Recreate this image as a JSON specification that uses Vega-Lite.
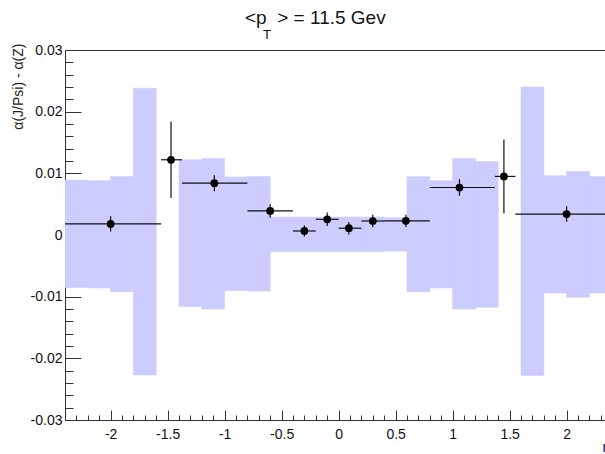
{
  "$schema": "https://vega.github.io/schema/vega-lite/v6.json",
  "width": 543,
  "height": 370,
  "autosize": {"type": "none"},
  "padding": {"left": 65, "top": 50, "right": 0, "bottom": 34},
  "background": "white",
  "config": {
    "view": {"stroke": "#333333", "strokeWidth": 1},
    "font": "Liberation Sans",
    "title": {"font": "Liberation Sans", "fontSize": 19, "fontWeight": "normal", "color": "#111111"}
  },
  "title": {
    "text": "<p\u00a0\u00a0> = 11.5 Gev",
    "subtitle": "\u200b\u00a0\u00a0\u00a0\u00a0\u00a0T",
    "subtitleFont": "Liberation Sans",
    "subtitleFontSize": 13,
    "subtitleColor": "#111111",
    "subtitlePadding": 1,
    "anchor": "start",
    "frame": "group",
    "dx": 180,
    "offset": 1
  },
  "datasets": {
    "bands": [
      {"x1": -2.4, "x2": -2.2, "lo": -0.0085, "hi": 0.0089},
      {"x1": -2.2, "x2": -2.0, "lo": -0.0086, "hi": 0.0088},
      {"x1": -2.0, "x2": -1.8, "lo": -0.0092, "hi": 0.0095},
      {"x1": -1.8, "x2": -1.6, "lo": -0.0227, "hi": 0.0238},
      {"x1": -1.4, "x2": -1.2, "lo": -0.0116, "hi": 0.0122},
      {"x1": -1.2, "x2": -1.0, "lo": -0.0120, "hi": 0.0124},
      {"x1": -1.0, "x2": -0.8, "lo": -0.0090, "hi": 0.0094},
      {"x1": -0.8, "x2": -0.6, "lo": -0.0091, "hi": 0.0095},
      {"x1": -0.6, "x2": -0.4, "lo": -0.0027, "hi": 0.0029},
      {"x1": -0.4, "x2": -0.2, "lo": -0.0027, "hi": 0.0029},
      {"x1": -0.2, "x2": 0.0, "lo": -0.0027, "hi": 0.0029},
      {"x1": 0.0, "x2": 0.2, "lo": -0.0027, "hi": 0.0029},
      {"x1": 0.2, "x2": 0.4, "lo": -0.0027, "hi": 0.0029},
      {"x1": 0.4, "x2": 0.6, "lo": -0.0026, "hi": 0.0028},
      {"x1": 0.6, "x2": 0.8, "lo": -0.0092, "hi": 0.00945},
      {"x1": 0.8, "x2": 1.0, "lo": -0.0086, "hi": 0.0088},
      {"x1": 1.0, "x2": 1.2, "lo": -0.0120, "hi": 0.0124},
      {"x1": 1.2, "x2": 1.4, "lo": -0.0117, "hi": 0.0119},
      {"x1": 1.6, "x2": 1.8, "lo": -0.0228, "hi": 0.0240},
      {"x1": 1.8, "x2": 2.0, "lo": -0.0094, "hi": 0.0096},
      {"x1": 2.0, "x2": 2.2, "lo": -0.0101, "hi": 0.0103},
      {"x1": 2.2, "x2": 2.4, "lo": -0.0094, "hi": 0.0095}
    ],
    "points": [
      {"x": -2.0, "xlo": -2.4, "xhi": -1.556, "y": 0.0018, "ylo": 0.00055, "yhi": 0.00305},
      {"x": -1.47, "xlo": -1.556, "xhi": -1.374, "y": 0.0122, "ylo": 0.0060, "yhi": 0.0184},
      {"x": -1.09, "xlo": -1.374, "xhi": -0.8, "y": 0.0084, "ylo": 0.0071, "yhi": 0.0097},
      {"x": -0.6, "xlo": -0.8, "xhi": -0.4, "y": 0.0039, "ylo": 0.0028, "yhi": 0.0050},
      {"x": -0.3, "xlo": -0.4, "xhi": -0.2, "y": 0.00065, "ylo": -0.00025, "yhi": 0.00155},
      {"x": -0.1, "xlo": -0.2, "xhi": 0.0, "y": 0.00255, "ylo": 0.00145, "yhi": 0.00365},
      {"x": 0.09, "xlo": 0.0, "xhi": 0.2, "y": 0.0011, "ylo": 0.0001, "yhi": 0.0021},
      {"x": 0.3, "xlo": 0.2, "xhi": 0.4, "y": 0.00227, "ylo": 0.00127, "yhi": 0.00327},
      {"x": 0.59, "xlo": 0.4, "xhi": 0.8, "y": 0.0023, "ylo": 0.0013, "yhi": 0.0033},
      {"x": 1.06, "xlo": 0.8, "xhi": 1.37, "y": 0.0077, "ylo": 0.00635, "yhi": 0.00905},
      {"x": 1.45, "xlo": 1.37, "xhi": 1.55, "y": 0.0095, "ylo": 0.0035, "yhi": 0.0155},
      {"x": 2.0, "xlo": 1.55, "xhi": 2.4, "y": 0.0034, "ylo": 0.00213, "yhi": 0.00467}
    ]
  },
  "layer": [
    {
      "data": {"name": "bands"},
      "mark": {"type": "rect", "color": "#ccccff", "stroke": "#ccccff", "strokeWidth": 0.6, "clip": true},
      "encoding": {
        "x": {
          "field": "x1", "type": "quantitative", "title": "η",
          "scale": {"domain": [-2.4, 2.363], "nice": false, "zero": false},
          "axis": {
            "titleFont": "Liberation Sans",
            "titleFontSize": 14,
            "titleFontWeight": "normal",
            "titleColor": "#111111",
            "titleAlign": "left",
            "titleBaseline": "middle",
            "titleX": 537,
            "titleY": 27,
            "values": [-2.4, -2.3, -2.2, -2.1, -2.0, -1.9, -1.8, -1.7, -1.6, -1.5, -1.4, -1.3, -1.2, -1.1, -1.0, -0.9, -0.8, -0.7, -0.6, -0.5, -0.4, -0.3, -0.2, -0.1, 0, 0.1, 0.2, 0.3, 0.4, 0.5, 0.6, 0.7, 0.8, 0.9, 1.0, 1.1, 1.2, 1.3, 1.4, 1.5, 1.6, 1.7, 1.8, 1.9, 2.0, 2.1, 2.2, 2.3],
            "tickCount": 1000,
            "labelExpr": "abs(datum.value*2 - round(datum.value*2)) < 1e-6 ? '' + datum.value : ''",
            "labelFont": "Liberation Sans",
            "labelFontSize": 14,
            "labelColor": "#111111",
            "labelPadding": 17,
            "labelFlush": false,
            "labelOverlap": false,
            "grid": false,
            "domainColor": "#333333",
            "tickColor": "#333333",
            "tickSize": {"condition": {"test": "abs(datum.value*2 - round(datum.value*2)) < 1e-6", "value": -10}, "value": -5}
          }
        },
        "x2": {"field": "x2"},
        "y": {
          "field": "lo", "type": "quantitative", "title": "α(J/Psi) - α(Z)",
          "scale": {"domain": [-0.03, 0.03], "nice": false, "zero": false},
          "axis": {
            "titleFont": "Liberation Sans",
            "titleFontSize": 14,
            "titleFontWeight": "normal",
            "titleColor": "#222222",
            "titleAngle": -90,
            "titleAnchor": "end",
            "titleAlign": "right",
            "titleBaseline": "middle",
            "titleX": -47,
            "titleY": -7,
            "values": [-0.03, -0.028, -0.026, -0.024, -0.022, -0.02, -0.018, -0.016, -0.014, -0.012, -0.01, -0.008, -0.006, -0.004, -0.002, 0, 0.002, 0.004, 0.006, 0.008, 0.01, 0.012, 0.014, 0.016, 0.018, 0.02, 0.022, 0.024, 0.026, 0.028, 0.03],
            "tickCount": 1000,
            "labelExpr": "abs(datum.value*100 - round(datum.value*100)) < 1e-6 ? '' + datum.value : ''",
            "labelFont": "Liberation Sans",
            "labelFontSize": 14,
            "labelColor": "#111111",
            "labelPadding": 19,
            "labelFlush": false,
            "labelOverlap": false,
            "grid": false,
            "domainColor": "#333333",
            "tickColor": "#333333",
            "tickSize": {"condition": {"test": "abs(datum.value*100 - round(datum.value*100)) < 1e-6", "value": -16}, "value": -8}
          }
        },
        "y2": {"field": "hi"}
      }
    },
    {
      "mark": {"type": "rule", "color": "#c4c4f4", "strokeWidth": 1},
      "encoding": {"y": {"datum": 0, "type": "quantitative", "title": "α(J/Psi) - α(Z)"}}
    },
    {
      "data": {"name": "points"},
      "mark": {"type": "rule", "color": "#111111", "strokeWidth": 1.2, "clip": true},
      "encoding": {
        "x": {"field": "xlo", "type": "quantitative", "title": "η"},
        "x2": {"field": "xhi"},
        "y": {"field": "y", "type": "quantitative", "title": "α(J/Psi) - α(Z)"}
      }
    },
    {
      "data": {"name": "points"},
      "mark": {"type": "rule", "color": "#111111", "strokeWidth": 1.2, "clip": true},
      "encoding": {
        "x": {"field": "x", "type": "quantitative", "title": "η"},
        "y": {"field": "ylo", "type": "quantitative", "title": "α(J/Psi) - α(Z)"},
        "y2": {"field": "yhi"}
      }
    },
    {
      "data": {"name": "points"},
      "mark": {"type": "circle", "color": "#000000", "opacity": 1, "size": 60, "clip": true},
      "encoding": {
        "x": {"field": "x", "type": "quantitative", "title": "η"},
        "y": {"field": "y", "type": "quantitative", "title": "α(J/Psi) - α(Z)"}
      }
    }
  ]
}
